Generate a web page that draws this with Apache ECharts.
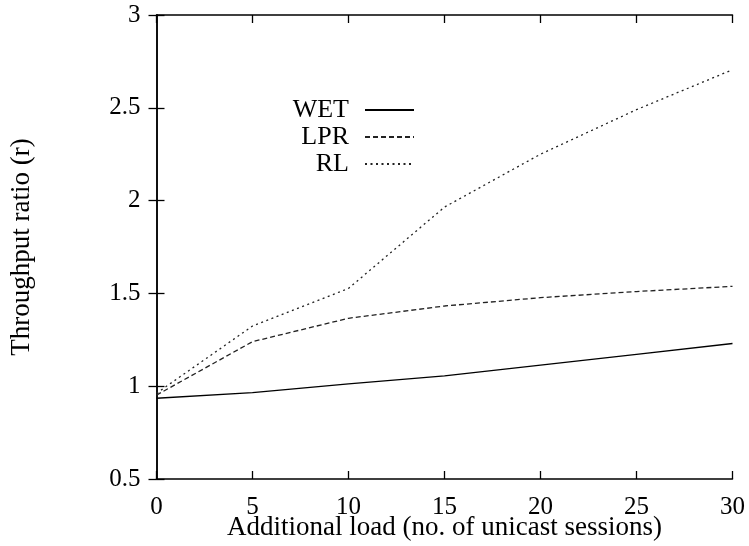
<!DOCTYPE html>
<html>
<head>
<meta charset="utf-8">
<script src="https://cdn.jsdelivr.net/npm/echarts@6/dist/echarts.min.js"></script>
<style>
html,body{margin:0;padding:0;background:#fff;}
#chart{width:749px;height:546px;}
</style>
</head>
<body>
<div id="chart"></div>
<script>
const xValues = [0, 5, 10, 15, 20, 25, 30];
const wet = [0.935, 0.965, 1.012, 1.056, 1.114, 1.172, 1.23];
const lpr = [0.952, 1.24, 1.366, 1.432, 1.477, 1.51, 1.538];
const rl  = [0.962, 1.324, 1.527, 1.965, 2.25, 2.49, 2.705];
const seriesNames = ['WET', 'LPR', 'RL'];

const FONT = 'Liberation Serif';
const pair = arr => xValues.map((x, i) => [x, arr[i]]);

const chart = echarts.init(document.getElementById('chart'), null, {renderer: 'canvas'});

const axisLine = {show: true, lineStyle: {color: '#000', width: 1.5}};
const axisTick = {show: true, inside: true, length: 8, lineStyle: {color: '#000', width: 1.3}};

function legendFor(name, top) {
  return {
    data: [name],
    right: 334,
    top: top,
    align: 'right',
    itemWidth: 49,
    itemHeight: 14,
    itemGap: 0,
    padding: 0,
    itemStyle: {opacity: 0},
    textStyle: {fontFamily: FONT, fontSize: 26, color: '#000', padding: [0, 11, 0, 0]},
    selectedMode: false
  };
}

chart.setOption({
  animation: false,
  backgroundColor: '#fff',
  grid: {left: 156.5, right: 16.5, top: 15, bottom: 67, containLabel: false, outerBoundsMode: 'none'},
  legend: [legendFor('WET', 97), legendFor('LPR', 124), legendFor('RL', 151)],
  xAxis: [{
    type: 'value', min: 0, max: 30, interval: 5, position: 'bottom',
    axisLine, axisTick, splitLine: {show: false},
    axisLabel: {fontFamily: FONT, fontSize: 25, color: '#000', margin: 16},
    name: 'Additional load (no. of unicast sessions)',
    nameLocation: 'middle', nameGap: 35, nameMoveOverlap: false,
    nameTextStyle: {fontFamily: FONT, fontSize: 27, color: '#000'}
  }, {
    type: 'value', min: 0, max: 30, interval: 5, position: 'top',
    axisLine, axisTick, splitLine: {show: false}, axisLabel: {show: false}
  }],
  yAxis: [{
    type: 'value', min: 0.5, max: 3, interval: 0.5, position: 'left',
    axisLine, axisTick, splitLine: {show: false},
    axisLabel: {fontFamily: FONT, fontSize: 25, color: '#000', margin: 16},
    name: 'Throughput ratio (r)',
    nameLocation: 'middle', nameGap: 121, nameMoveOverlap: false,
    nameTextStyle: {fontFamily: FONT, fontSize: 27, color: '#000'}
  }, {
    type: 'value', min: 0.5, max: 3, interval: 0.5, position: 'right',
    axisLine, axisTick, splitLine: {show: false}, axisLabel: {show: false}
  }],
  series: [
    {name: seriesNames[0], type: 'line', data: pair(wet), symbol: 'none',
     lineStyle: {color: '#000', width: 1.3, type: 'solid'}, itemStyle: {color: '#000'}},
    {name: seriesNames[1], type: 'line', data: pair(lpr), symbol: 'none',
     lineStyle: {color: '#222', width: 1.3, type: [5, 3]}, itemStyle: {color: '#222'}},
    {name: seriesNames[2], type: 'line', data: pair(rl), symbol: 'none',
     lineStyle: {color: '#222', width: 1.3, type: [2, 3.5]}, itemStyle: {color: '#222'}}
  ]
});
</script>
</body>
</html>
